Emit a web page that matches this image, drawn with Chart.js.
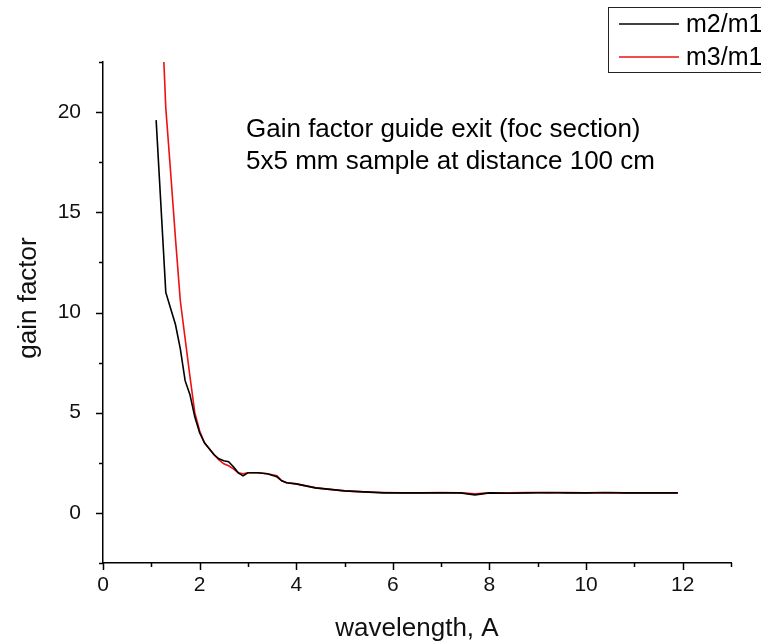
<!DOCTYPE html>
<html>
<head>
<meta charset="utf-8">
<script src="https://cdn.jsdelivr.net/npm/chart.js@4.4.0/dist/chart.umd.min.js"></script>
<style>
  html, body { margin: 0; padding: 0; background: #fff; }
  #wrap { width: 761px; height: 644px; }
</style>
</head>
<body>
<div id="wrap"><canvas id="gainChart" width="761" height="644"></canvas></div>
<script>
// ---- data ----
const seriesLabels = ['m2/m1', 'm3/m1'];

const m2Wave = [1.1, 1.2, 1.3, 1.4, 1.5, 1.6, 1.7, 1.8, 1.9, 2.0, 2.1, 2.2, 2.3, 2.4, 2.5, 2.6, 2.7, 2.8, 2.9, 3.0,
  3.2, 3.4, 3.6, 3.7, 3.8, 4.0, 4.2, 4.4, 4.6, 4.8, 5.0, 5.4, 5.8, 6.2, 6.6, 7.0, 7.4, 7.7, 8.0, 8.4,
  8.8, 9.2, 9.6, 10.0, 10.4, 10.8, 11.2, 11.6, 11.9];
const m2Gain = [19.6, 15.3, 11.0, 10.2, 9.4, 8.2, 6.6, 5.9, 4.8, 4.0, 3.5, 3.2, 2.9, 2.7, 2.6, 2.55, 2.3, 2.0, 1.85, 2.0,
  2.0, 1.95, 1.8, 1.6, 1.5, 1.45, 1.35, 1.25, 1.2, 1.15, 1.1, 1.05, 1.0, 1.0, 1.0, 1.0, 1.0, 0.9, 1.0, 0.98,
  1.0, 1.02, 1.0, 1.0, 1.02, 1.0, 1.0, 1.0, 1.0];

const m3Wave = [1.26, 1.3, 1.4, 1.5, 1.6, 1.7, 1.8, 1.9, 2.0, 2.1, 2.2, 2.3, 2.4, 2.5, 2.6, 2.7, 2.8, 2.9, 3.0,
  3.2, 3.4, 3.6, 3.7, 3.8, 4.0, 4.2, 4.4, 4.6, 4.8, 5.0, 5.4, 5.8, 6.2, 6.6, 7.0, 7.4, 7.7, 8.0, 8.4,
  8.8, 9.2, 9.6, 10.0, 10.4, 10.8, 11.2, 11.6, 11.9];
const m3Gain = [22.5, 20.2, 17.0, 13.7, 10.6, 8.7, 6.8, 5.0, 4.1, 3.5, 3.2, 2.9, 2.65, 2.45, 2.35, 2.2, 2.0, 1.95, 2.0,
  2.0, 1.95, 1.85, 1.6, 1.5, 1.45, 1.35, 1.25, 1.2, 1.15, 1.1, 1.05, 1.02, 1.0, 1.0, 1.02, 1.0, 0.95, 1.0, 1.0,
  1.02, 1.0, 1.02, 1.0, 1.0, 1.0, 1.0, 1.0, 1.0];

// labelled (major) ticks and unlabelled (minor) ones
const xTickLabels = [0, 2, 4, 6, 8, 10, 12];
const xMinorTicks = [1, 3, 5, 7, 9, 11, 13];
const yTickLabels = [0, 5, 10, 15, 20];
const yMinorTicks = [-2.5, 2.5, 7.5, 12.5, 17.5, 22.5];

const noteLines = ['Gain factor guide exit (foc section)', '5x5 mm sample at distance 100 cm'];
const xTitle = 'wavelength, A';
const yTitle = 'gain factor';

const FONT = '"Liberation Sans", Arial, sans-serif';

function toPoints(xs, ys) {
    return xs.map((x, i) => ({ x: x, y: ys[i] }));
}

function setTicks(major, minor) {
    return scale => {
        scale.ticks = major.concat(minor).sort((a, b) => a - b).map(v => ({ value: v }));
    };
}

// ---- tick marks (major/minor) drawn from the scales ----
const tickMarks = {
    id: 'tickMarks',
    afterDraw(chart) {
        const ctx = chart.ctx;
        const xs = chart.scales.x, ys = chart.scales.y;
        const area = chart.chartArea;
        ctx.save();
        ctx.strokeStyle = '#000';
        ctx.lineWidth = 1.5;
        xs.ticks.forEach(t => {
            const px = Math.round(xs.getPixelForValue(t.value)) + 0.5;
            const len = xTickLabels.includes(t.value) ? 7 : 4;
            ctx.beginPath();
            ctx.moveTo(px, area.bottom);
            ctx.lineTo(px, area.bottom + len);
            ctx.stroke();
        });
        ys.ticks.forEach(t => {
            const py = Math.round(ys.getPixelForValue(t.value)) + 0.5;
            const len = yTickLabels.includes(t.value) ? 7 : 4;
            ctx.beginPath();
            ctx.moveTo(area.left, py);
            ctx.lineTo(area.left - len, py);
            ctx.stroke();
        });
        ctx.restore();
    }
};

// ---- note text, y title (sits a bit above centre) + boxed legend ----
const extras = {
    id: 'extras',
    afterDraw(chart) {
        const ctx = chart.ctx;
        ctx.save();
        ctx.fillStyle = '#000';
        ctx.font = '26px ' + FONT;
        ctx.textBaseline = 'alphabetic';
        ctx.textAlign = 'left';
        ctx.fillText(noteLines[0], 246, 137);
        ctx.fillText(noteLines[1], 246, 169);

        ctx.save();
        ctx.fillStyle = '#111';
        ctx.translate(29, 298);
        ctx.rotate(-Math.PI / 2);
        ctx.textAlign = 'center';
        ctx.textBaseline = 'middle';
        ctx.fillText(yTitle, 0, 0);
        ctx.restore();

        // legend box
        ctx.strokeStyle = '#222';
        ctx.lineWidth = 1;
        ctx.strokeRect(608.5, 7.5, 170, 65);
        ctx.font = '25px ' + FONT;
        ctx.textBaseline = 'middle';
        chart.data.datasets.forEach((ds, i) => {
            const y = 24 + i * 33;
            ctx.strokeStyle = ds.borderColor;
            ctx.lineWidth = 1.5;
            ctx.beginPath();
            ctx.moveTo(619, y);
            ctx.lineTo(679, y);
            ctx.stroke();
            ctx.fillStyle = '#000';
            ctx.fillText(ds.label, 686, y + 1);
        });
        ctx.restore();
    }
};

new Chart(document.getElementById('gainChart'), {
    type: 'line',
    data: {
        datasets: [
            {
                label: seriesLabels[0],
                data: toPoints(m2Wave, m2Gain),
                borderColor: '#000000',
                borderWidth: 1.6,
                pointRadius: 0,
                tension: 0,
                fill: false
            },
            {
                label: seriesLabels[1],
                data: toPoints(m3Wave, m3Gain),
                borderColor: '#ee1111',
                borderWidth: 1.6,
                pointRadius: 0,
                tension: 0,
                fill: false
            }
        ]
    },
    options: {
        responsive: false,
        animation: false,
        layout: { padding: { top: 62, right: 30, left: 0, bottom: 0 } },
        plugins: {
            legend: { display: false },
            tooltip: { enabled: false }
        },
        scales: {
            x: {
                type: 'linear',
                min: 0,
                max: 13,
                afterBuildTicks: setTicks(xTickLabels, xMinorTicks),
                afterFit: s => { s.height = 81; },
                grid: { display: false, drawTicks: true, tickLength: 7 },
                border: { display: true, color: '#000', width: 1.5 },
                ticks: {
                    autoSkip: false,
                    maxRotation: 0,
                    padding: 3,
                    color: '#111',
                    font: { family: FONT, size: 21 },
                    callback: v => xTickLabels.includes(v) ? String(v) : ''
                },
                title: {
                    display: true,
                    text: xTitle,
                    color: '#111',
                    font: { family: FONT, size: 26 },
                    padding: { top: 0, bottom: 0 }
                }
            },
            y: {
                type: 'linear',
                min: -2.5,
                max: 22.5,
                afterBuildTicks: setTicks(yTickLabels, yMinorTicks),
                afterFit: s => { s.width = 103; },
                grid: { display: false, drawTicks: true, tickLength: 7 },
                border: { display: true, color: '#000', width: 1.5 },
                ticks: {
                    autoSkip: false,
                    padding: 15,
                    color: '#111',
                    font: { family: FONT, size: 21 },
                    callback: v => yTickLabels.includes(v) ? String(v) : ''
                }
            }
        }
    },
    plugins: [tickMarks, extras]
});
</script>
</body>
</html>
